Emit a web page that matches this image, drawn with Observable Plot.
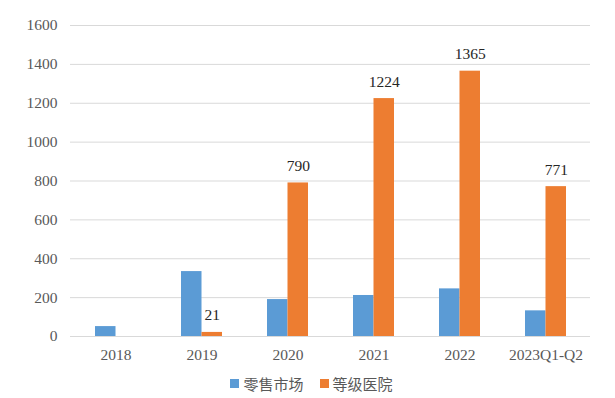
<!DOCTYPE html>
<html><head><meta charset="utf-8">
<script src="https://cdn.jsdelivr.net/npm/d3@7"></script>
<script src="https://cdn.jsdelivr.net/npm/@observablehq/plot@0.6"></script>
<style>
body{margin:0;background:#fff;}
#chart{width:615px;}
.legend{display:flex;justify-content:center;gap:16px;font-family:"Noto Sans CJK SC",sans-serif;font-size:15px;color:#595959;margin-top:6px;padding-left:8px;}
.legend span{display:flex;align-items:center;}
.legend i{display:inline-block;width:9px;height:9px;margin-right:4px;}
</style></head>
<body><div id="chart"></div>
<script>
const years = ["2018","2019","2020","2021","2022","2023Q1-Q2"];
const retail = [51, 334, 190, 211, 245, 132];
const hospital = [null, 21, 790, 1224, 1365, 771];
const seriesNames = ["零售市场","等级医院"];
const colors = ["#5b9bd5","#ed7d31"];
const yTicks = [0,200,400,600,800,1000,1200,1400,1600];

const rRows = years.map((y,i)=>({year:y, v:retail[i]}));
const hRows = years.map((y,i)=>({year:y, v:hospital[i]})).filter(d=>d.v!=null);

const serif = "'Liberation Serif','Times New Roman',serif";
const plot = Plot.plot({
  width: 615, height: 367,
  marginLeft: 70, marginRight: 25, marginTop: 25, marginBottom: 31,
  style: {fontFamily: serif, fontSize: "15.5px", color: "#595959", background: "#fff"},
  x: {domain: years, paddingInner: 0.527, paddingOuter: 0.2635, label: null, tickSize: 0, tickPadding: 12},
  y: {domain: [0,1600], ticks: yTicks, label: null, tickSize: 0, tickPadding: 13, tickFormat: d=>String(d)},
  marks: [
    Plot.ruleY(yTicks, {stroke: "#d9d9d9", strokeWidth: 1}),
    Plot.barY(rRows, {x: "year", y: "v", fill: colors[0], insetRight: 20.5, insetLeft: 0}),
    Plot.barY(hRows, {x: "year", y: "v", fill: colors[1], insetLeft: 20.5, insetRight: 0}),
    Plot.text(hRows, {x: "year", y: "v", text: d=>String(d.v), dx: 10.25, dy: -17, fill: "#262626", fontSize: 15.5, fontFamily: serif})
  ]
});
d3.select(plot).selectAll("text").style("font-family", serif).style("font-size", "15.5px");
d3.select(plot).selectAll("g[aria-label*='axis'] text").style("fill", "#595959");
document.getElementById("chart").appendChild(plot);
const lg = document.createElement("div");
lg.className = "legend";
seriesNames.forEach((n,i)=>{
  const s = document.createElement("span");
  s.innerHTML = `<i style="background:${colors[i]}"></i>${n}`;
  lg.appendChild(s);
});
document.getElementById("chart").appendChild(lg);
</script></body></html>
